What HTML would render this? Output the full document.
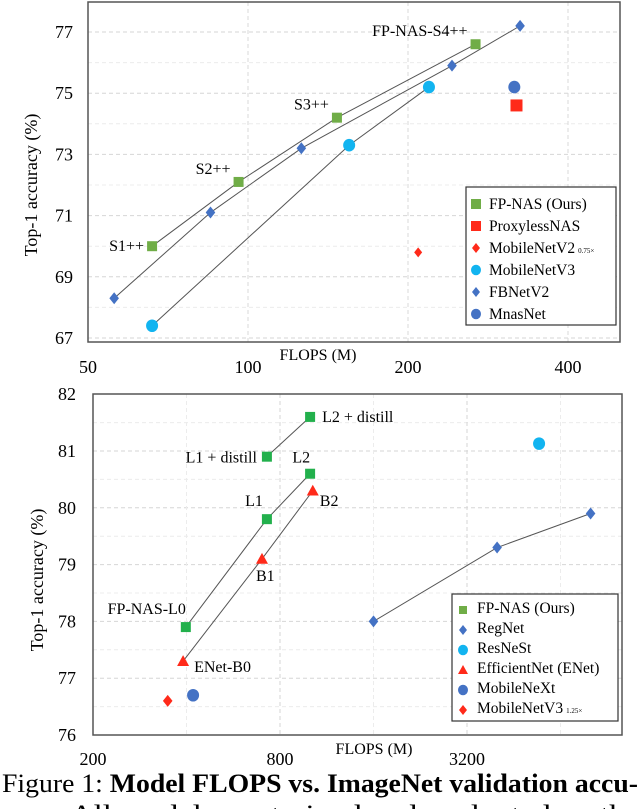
<!DOCTYPE html>
<html><head><meta charset="utf-8">
<style>
html,body{margin:0;padding:0;background:#fff;}
svg{display:block;font-family:"Liberation Serif",serif;}
</style></head>
<body>
<svg id="fig" width="640" height="809" viewBox="0 0 640 809" xmlns="http://www.w3.org/2000/svg">
<g id="top"></g>
<g id="bot"></g>
<text x="2" y="792" font-size="26" fill="#000" textLength="636" lengthAdjust="spacingAndGlyphs">Figure 1:  <tspan font-weight="bold">Model FLOPS vs.  ImageNet validation accu-</tspan></text>
<text x="70" y="823" font-size="26" fill="#000" textLength="570" lengthAdjust="spacingAndGlyphs">All models are trained and evaluated on the</text>
</svg>
<script>
// ===== Top chart data =====
const fpnasFlopsA = [66, 96, 147, 268];
const fpnasAccA = [70.0, 72.1, 74.2, 76.6];
const fpnasLabelsA = ["S1++", "S2++", "S3++", "FP-NAS-S4++"];
const fbnetFlops = [56, 85, 126, 242, 325];
const fbnetAcc = [68.3, 71.1, 73.2, 75.9, 77.2];
const mbv3Flops = [66, 155, 219];
const mbv3Acc = [67.4, 73.3, 75.2];
const mnasFlops = [317];
const mnasAcc = [75.2];
const proxyFlops = [320];
const proxyAcc = [74.6];
const mbv2Flops = [209];
const mbv2Acc = [69.8];
const topXTicks = [50, 100, 200, 400];
const topYTicks = [67, 69, 71, 73, 75, 77];

// ===== Bottom chart data =====
const fpnasFlopsB = [398, 726, 1000];
const fpnasAccB = [77.9, 79.8, 80.6];
const fpnasDistFlops = [726, 1000];
const fpnasDistAcc = [80.9, 81.6];
const enetFlops = [390, 700, 1020];
const enetAcc = [77.3, 79.1, 80.3];
const regnetFlops = [1600, 4000, 8000];
const regnetAcc = [78.0, 79.3, 79.9];
const resnestFlops = [5460];
const resnestAcc = [81.13];
const mnextFlops = [420];
const mnextAcc = [76.7];
const mbv3bFlops = [348];
const mbv3bAcc = [76.6];
const botXTicks = [200, 800, 3200];
const botYTicks = [76, 77, 78, 79, 80, 81, 82];

const NS = "http://www.w3.org/2000/svg";
function mk(parent, tag, attrs, text) {
  const e = document.createElementNS(NS, tag);
  for (const k in attrs) e.setAttribute(k, attrs[k]);
  if (text !== undefined) e.textContent = text;
  parent.appendChild(e);
  return e;
}
function marker(g, shape, x, y, color, s) {
  let e;
  if (shape === "square") e = mk(g, "rect", {x: x - s, y: y - s, width: 2 * s, height: 2 * s, fill: color});
  else if (shape === "circle") e = mk(g, "ellipse", {cx: x, cy: y, rx: s, ry: s * 1.05, fill: color});
  else if (shape === "diamond") e = mk(g, "polygon", {points: `${x},${y - s} ${x + s * 0.8},${y} ${x},${y + s} ${x - s * 0.8},${y}`, fill: color});
  else e = mk(g, "polygon", {points: `${x},${y - s} ${x + s},${y + s * 0.8} ${x - s},${y + s * 0.8}`, fill: color});
  return e;
}
function line(g, xs, ys, X, Y) {
  const pts = xs.map((v, i) => X(v) + "," + Y(ys[i])).join(" ");
  const e = mk(g, "polyline", {points: pts, fill: "none", stroke: "#555", "stroke-width": 1});
  
  
}
function series(g, name, xs, ys, X, Y, shape, color, s) {
  xs.forEach((v, i) => {
    const e = marker(g, shape, X(v), Y(ys[i]), color, s);
    
    
  });
}
const GREEN = "#70ad47", GREEN2 = "#22b04c", RED = "#ff2a1a", CYAN = "#12b4f0", BLUE = "#4472c4";

// ---------- TOP ----------
(function () {
  const g = document.getElementById("top");
  const L = 88, R = 620, T = 2, B = 342;
  const X = f => L + 160 * Math.log2(f / 50);
  const Y = a => 338 - (a - 67) * 30.6;
  for (let a = 67; a <= 78; a += 1) {
    if (Y(a) < T) continue;
    const e = mk(g, "line", {x1: L, x2: R, y1: Y(a), y2: Y(a), stroke: a % 2 ? "#d6d6d6" : "#ececec", "stroke-dasharray": "4,3"});
    
    
  }
  topXTicks.forEach(t => {
    const e = mk(g, "line", {x1: X(t), x2: X(t), y1: T, y2: B, stroke: "#dadada", "stroke-dasharray": "4,3"});
    
    
    const l = mk(g, "text", {x: X(t), y: 373, "font-size": 18, "text-anchor": "middle"}, String(t));
    
    
  });
  topYTicks.forEach(t => {
    const l = mk(g, "text", {x: 73, y: Y(t) + 6, "font-size": 18, "text-anchor": "end"}, String(t));
    
    
  });
  mk(g, "rect", {x: L, y: T, width: R - L, height: B - T, fill: "none", stroke: "#555", "stroke-width": 1.5,  });
  mk(g, "text", {x: 0, y: 0, "font-size": 18, "text-anchor": "middle", transform: "translate(37,185) rotate(-90)",  }, "Top-1 accuracy (%)");
  mk(g, "text", {x: 318, y: 360, "font-size": 16, "text-anchor": "middle",  }, "FLOPS (M)");
  line(g, fpnasFlopsA, fpnasAccA, X, Y);
  line(g, fbnetFlops, fbnetAcc, X, Y);
  line(g, mbv3Flops, mbv3Acc, X, Y);
  series(g, "fbnetv2", fbnetFlops, fbnetAcc, X, Y, "diamond", BLUE, 6);
  series(g, "mobilenetv3", mbv3Flops, mbv3Acc, X, Y, "circle", CYAN, 6);
  series(g, "fp-nas", fpnasFlopsA, fpnasAccA, X, Y, "square", GREEN, 5);
  series(g, "mnasnet", mnasFlops, mnasAcc, X, Y, "circle", BLUE, 6);
  series(g, "proxylessnas", proxyFlops, proxyAcc, X, Y, "square", RED, 6);
  series(g, "mobilenetv2", mbv2Flops, mbv2Acc, X, Y, "diamond", RED, 5);
  fpnasLabelsA.forEach((s, i) => {
    const e = mk(g, "text", {x: X(fpnasFlopsA[i]) - 8, y: Y(fpnasAccA[i]) - (i === 0 ? -5 : 8), "font-size": 16, "text-anchor": "end"}, s);
    
    
  });
  const lg = mk(g, "g", { });
  mk(lg, "rect", {x: 466, y: 187, width: 150, height: 138, fill: "#fff", stroke: "#333", "stroke-width": 1.2});
  const ent = [["FP-NAS (Ours)", "square", GREEN, 5], ["ProxylessNAS", "square", RED, 5], ["MobileNetV2", "diamond", RED, 5], ["MobileNetV3", "circle", CYAN, 5], ["FBNetV2", "diamond", BLUE, 5], ["MnasNet", "circle", BLUE, 5]];
  ent.forEach((en, i) => {
    const y = 204 + i * 22;
    const eg = mk(lg, "g", {});
    
    
    marker(eg, en[1], 476, y, en[2], en[3]);
    const t = mk(eg, "text", {x: 489, y: y + 5, "font-size": 15.5}, en[0]);
    if (i === 2) mk(t, "tspan", {"font-size": 7, dx: 3}, "0.75×");
  });
})();

// ---------- BOTTOM ----------
(function () {
  const g = document.getElementById("bot");
  const L = 93, R = 622, T = 394, B = 735;
  const X = f => L + 93.5 * Math.log2(f / 200);
  const Y = a => 735 - (a - 76) * 56.8;
  for (let a = 76.5; a < 82; a += 0.5) {
    const e = mk(g, "line", {x1: L, x2: R, y1: Y(a), y2: Y(a), stroke: Number.isInteger(a) ? "#d6d6d6" : "#ececec", "stroke-dasharray": "4,3"});
    
    
  }
  [400, 800, 1600, 3200, 6400].forEach(t => {
    const e = mk(g, "line", {x1: X(t), x2: X(t), y1: T, y2: B, stroke: (t === 800 || t === 3200) ? "#d6d6d6" : "#ececec", "stroke-dasharray": "4,3"});
    
    
  });
  botXTicks.forEach(t => {
    const l = mk(g, "text", {x: X(t), y: 765, "font-size": 18, "text-anchor": "middle"}, String(t));
    
    
  });
  botYTicks.forEach(t => {
    const l = mk(g, "text", {x: 76, y: Y(t) + 6, "font-size": 18, "text-anchor": "end"}, String(t));
    
    
  });
  mk(g, "rect", {x: L, y: T, width: R - L, height: B - T, fill: "none", stroke: "#555", "stroke-width": 1.5,  });
  mk(g, "text", {x: 0, y: 0, "font-size": 18, "text-anchor": "middle", transform: "translate(43,580) rotate(-90)",  }, "Top-1 accuracy (%)");
  mk(g, "text", {x: 374, y: 754, "font-size": 16, "text-anchor": "middle",  }, "FLOPS (M)");
  line(g, fpnasFlopsB, fpnasAccB, X, Y);
  line(g, fpnasDistFlops, fpnasDistAcc, X, Y);
  line(g, enetFlops, enetAcc, X, Y);
  line(g, regnetFlops, regnetAcc, X, Y);
  series(g, "regnet", regnetFlops, regnetAcc, X, Y, "diamond", BLUE, 6);
  series(g, "resnest", resnestFlops, resnestAcc, X, Y, "circle", CYAN, 6);
  series(g, "fp-nas", fpnasFlopsB, fpnasAccB, X, Y, "square", GREEN2, 5);
  series(g, "fp-nas-distill", fpnasDistFlops, fpnasDistAcc, X, Y, "square", GREEN2, 5);
  series(g, "efficientnet", enetFlops, enetAcc, X, Y, "triangle", RED, 6);
  series(g, "mobilenext", mnextFlops, mnextAcc, X, Y, "circle", BLUE, 6);
  series(g, "mobilenetv3", mbv3bFlops, mbv3bAcc, X, Y, "diamond", RED, 6);
  const labs = [
    ["L2 + distill", fpnasDistFlops[1], fpnasDistAcc[1], 12, 5, "start"],
    ["L1 + distill", fpnasDistFlops[0], fpnasDistAcc[0], -10, 6, "end"],
    ["L2", fpnasFlopsB[2], fpnasAccB[2], 0, -11, "end"],
    ["L1", fpnasFlopsB[1], fpnasAccB[1], -4, -13, "end"],
    ["FP-NAS-L0", fpnasFlopsB[0], fpnasAccB[0], 0, -13, "end"],
    ["B2", enetFlops[2], enetAcc[2], 7, 15, "start"],
    ["B1", enetFlops[1], enetAcc[1], -6, 22, "start"],
    ["ENet-B0", enetFlops[0], enetAcc[0], 11, 11, "start"]
  ];
  labs.forEach(l => {
    const e = mk(g, "text", {x: X(l[1]) + l[3], y: Y(l[2]) + l[4], "font-size": 16, "text-anchor": l[5]}, l[0]);
    
    
  });
  const lg = mk(g, "g", { });
  mk(lg, "rect", {x: 452, y: 594, width: 166, height: 127, fill: "#fff", stroke: "#333", "stroke-width": 1.2});
  const ent = [["FP-NAS (Ours)", "square", GREEN, 4], ["RegNet", "diamond", BLUE, 5], ["ResNeSt", "circle", CYAN, 5], ["EfficientNet (ENet)", "triangle", RED, 5], ["MobileNeXt", "circle", BLUE, 5], ["MobileNetV3", "diamond", RED, 5]];
  ent.forEach((en, i) => {
    const y = 608 + i * 20;
    const eg = mk(lg, "g", {});
    
    
    marker(eg, en[1], 463, y + 2, en[2], en[3]);
    const t = mk(eg, "text", {x: 477, y: y + 5, "font-size": 15.5}, en[0]);
    if (i === 5) mk(t, "tspan", {"font-size": 7, dx: 3}, "1.25×");
  });
})();
</script>
</body></html>
